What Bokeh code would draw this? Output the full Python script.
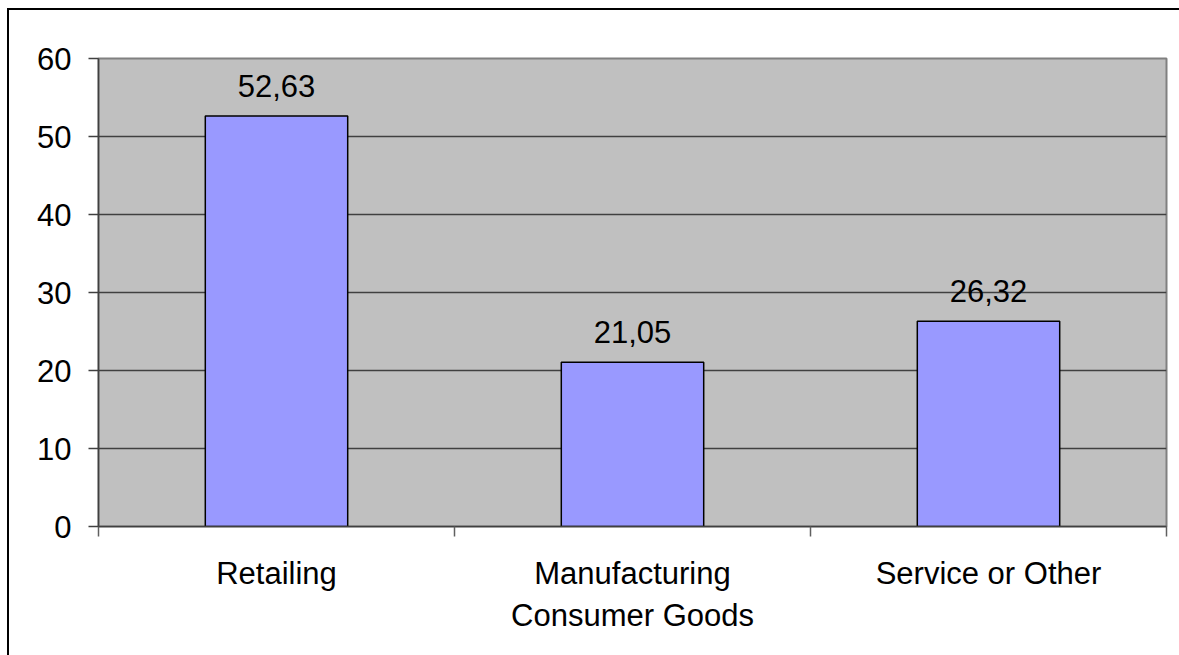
from bokeh.plotting import figure
from bokeh.models import (ColumnDataSource, Range1d, FixedTicker, LinearAxis, LabelSet)
from bokeh.core.properties import value
from bokeh.embed import file_html
from bokeh.resources import INLINE

# ---- data ----
categories = ["Retailing", "Manufacturing\nConsumer Goods", "Service or Other"]
values = [52.63, 21.05, 26.32]
value_labels = ["52,63", "21,05", "26,32"]
y_ticks = [0, 10, 20, 30, 40, 50, 60]

FONT = "Liberation Sans"
FS = "31px"

xs = [i + 0.5 for i in range(len(categories))]
src = ColumnDataSource(dict(x=xs, top=values, lab=value_labels))

p = figure(width=1179, height=655, output_backend="svg", toolbar_location=None,
           x_range=Range1d(0, len(categories)), y_range=Range1d(0, 60),
           min_border_left=98, min_border_right=13, min_border_top=58,
           min_border_bottom=129, x_axis_type=None)
p.background_fill_color = "#C0C0C0"
p.border_fill_color = "white"
p.outline_line_color = "#808080"
p.outline_line_width = 2

p.vbar(x="x", top="top", bottom=0, width=0.4, source=src,
       fill_color="#9999FF", line_color="black", line_width=1.5)

labels = LabelSet(x="x", y="top", text="lab", source=src, y_offset=19,
                  text_align="center", text_baseline="alphabetic",
                  text_font=value(FONT), text_font_size=value(FS), text_color="black")
p.add_layout(labels)

# grid
p.xgrid.visible = False
p.ygrid.ticker = FixedTicker(ticks=[10, 20, 30, 40, 50])
p.ygrid.grid_line_color = "#404040"
p.ygrid.grid_line_width = 1.5

# y axis
ya = p.yaxis[0]
ya.ticker = FixedTicker(ticks=y_ticks)
ya.axis_line_color = "#404040"
ya.axis_line_width = 1.5
ya.major_tick_line_color = "#404040"
ya.major_tick_line_width = 1.5
ya.major_tick_out = 10
ya.major_tick_in = 0
ya.minor_tick_line_color = None
ya.major_label_standoff = 17
ya.major_label_text_font = FONT
ya.major_label_text_font_size = FS
ya.major_label_text_color = "black"

# x axis: labels at centres, tick marks at boundaries (minor ticks)
xa = LinearAxis(ticker=FixedTicker(ticks=xs, minor_ticks=list(range(len(categories) + 1))))
xa.major_label_overrides = {x: c for x, c in zip(xs, categories)}
xa.axis_line_color = "#404040"
xa.axis_line_width = 1.5
xa.major_tick_line_color = None
xa.major_tick_out = 0
xa.major_tick_in = 0
xa.minor_tick_line_color = "#606060"
xa.minor_tick_line_width = 1.5
xa.minor_tick_out = 10
xa.minor_tick_in = 0
xa.major_label_standoff = 19
xa.major_label_text_font = FONT
xa.major_label_text_font_size = FS
xa.major_label_text_color = "black"
p.add_layout(xa, "below")

html = file_html(p, INLINE)
# outer chart-area border: only its left and top edges fall inside the window
overlay = ('<div style="position:absolute;left:7px;top:8px;width:1170px;height:700px;'
           'border-left:2px solid black;border-top:2px solid black;box-sizing:content-box;'
           'pointer-events:none;z-index:10;"></div>')
html = html.replace("</body>", overlay + "\n</body>", 1)
html = html.replace("</head>",
                    "<style>html,body{margin:0;padding:0;overflow:hidden;}</style>\n</head>", 1)
open("out.html", "w").write(html)
